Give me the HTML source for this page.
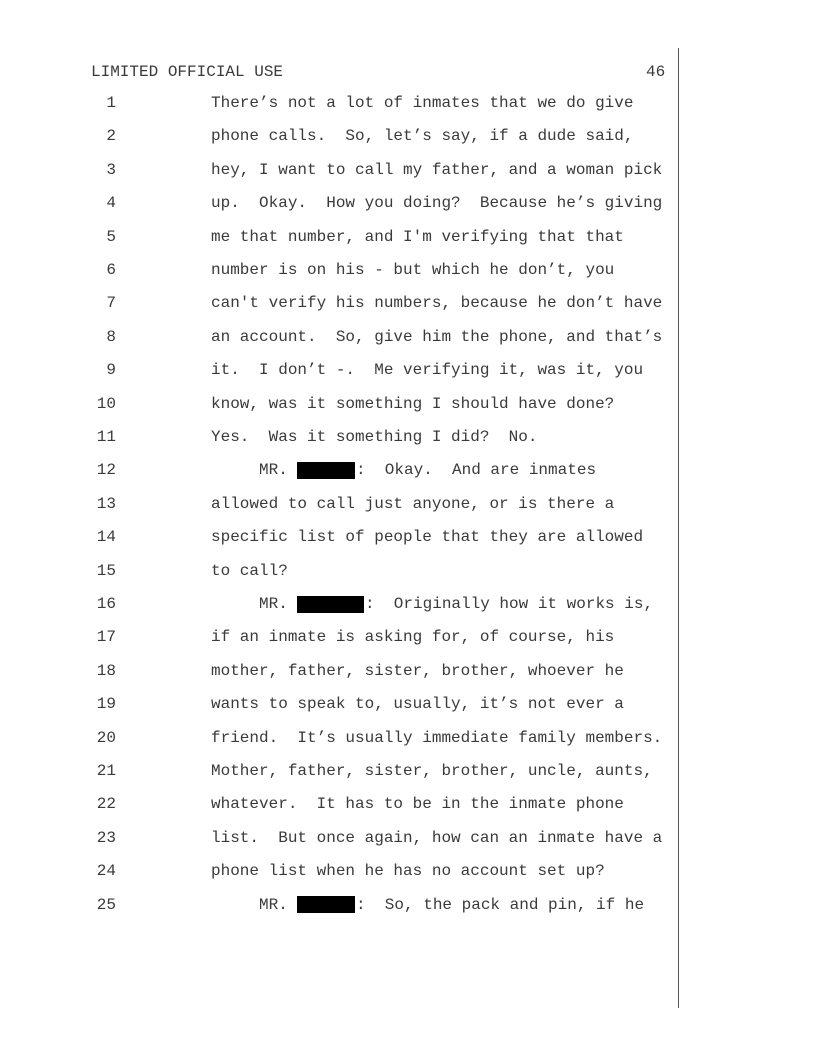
<!DOCTYPE html>
<html><head><meta charset="utf-8"><style>
body{margin:0;background:#fff;}
#p{position:relative;width:816px;height:1056px;overflow:hidden;font-family:"Liberation Mono","Courier New",monospace;font-size:16px;color:#3a3a3a;}
.t{position:absolute;white-space:pre;line-height:20px;}
.n{position:absolute;width:40px;text-align:right;left:76px;line-height:20px;}
.b{position:absolute;background:#000;height:17px;}
</style></head><body><div id="p">
<div class="t" style="left:91px;top:62px">LIMITED OFFICIAL USE</div>
<div class="t" style="left:646px;top:62px">46</div>
<div style="position:absolute;left:678px;top:48px;width:1px;height:960px;background:#555"></div>

<div class="n" style="top:93px">1</div><div class="t" style="left:211px;top:93px">There’s not a lot of inmates that we do give</div>
<div class="n" style="top:126.4px">2</div><div class="t" style="left:211px;top:126.4px">phone calls.  So, let’s say, if a dude said,</div>
<div class="n" style="top:159.8px">3</div><div class="t" style="left:211px;top:159.8px">hey, I want to call my father, and a woman pick</div>
<div class="n" style="top:193.2px">4</div><div class="t" style="left:211px;top:193.2px">up.  Okay.  How you doing?  Because he’s giving</div>
<div class="n" style="top:226.6px">5</div><div class="t" style="left:211px;top:226.6px">me that number, and I'm verifying that that</div>
<div class="n" style="top:260px">6</div><div class="t" style="left:211px;top:260px">number is on his - but which he don’t, you</div>
<div class="n" style="top:293.4px">7</div><div class="t" style="left:211px;top:293.4px">can't verify his numbers, because he don’t have</div>
<div class="n" style="top:326.8px">8</div><div class="t" style="left:211px;top:326.8px">an account.  So, give him the phone, and that’s</div>
<div class="n" style="top:360.2px">9</div><div class="t" style="left:211px;top:360.2px">it.  I don’t -.  Me verifying it, was it, you</div>
<div class="n" style="top:393.6px">10</div><div class="t" style="left:211px;top:393.6px">know, was it something I should have done?</div>
<div class="n" style="top:427px">11</div><div class="t" style="left:211px;top:427px">Yes.  Was it something I did?  No.</div>
<div class="n" style="top:460.4px">12</div><div class="t" style="left:259px;top:460.4px">MR.</div><div class="b" style="left:297px;width:58px;top:462px"></div><div class="t" style="left:356px;top:460.4px">:  Okay.  And are inmates</div>
<div class="n" style="top:493.8px">13</div><div class="t" style="left:211px;top:493.8px">allowed to call just anyone, or is there a</div>
<div class="n" style="top:527.2px">14</div><div class="t" style="left:211px;top:527.2px">specific list of people that they are allowed</div>
<div class="n" style="top:560.6px">15</div><div class="t" style="left:211px;top:560.6px">to call?</div>
<div class="n" style="top:594px">16</div><div class="t" style="left:259px;top:594px">MR.</div><div class="b" style="left:297px;width:67px;top:595.5px"></div><div class="t" style="left:365px;top:594px">:  Originally how it works is,</div>
<div class="n" style="top:627.4px">17</div><div class="t" style="left:211px;top:627.4px">if an inmate is asking for, of course, his</div>
<div class="n" style="top:660.8px">18</div><div class="t" style="left:211px;top:660.8px">mother, father, sister, brother, whoever he</div>
<div class="n" style="top:694.2px">19</div><div class="t" style="left:211px;top:694.2px">wants to speak to, usually, it’s not ever a</div>
<div class="n" style="top:727.6px">20</div><div class="t" style="left:211px;top:727.6px">friend.  It’s usually immediate family members.</div>
<div class="n" style="top:761px">21</div><div class="t" style="left:211px;top:761px">Mother, father, sister, brother, uncle, aunts,</div>
<div class="n" style="top:794.4px">22</div><div class="t" style="left:211px;top:794.4px">whatever.  It has to be in the inmate phone</div>
<div class="n" style="top:827.8px">23</div><div class="t" style="left:211px;top:827.8px">list.  But once again, how can an inmate have a</div>
<div class="n" style="top:861.2px">24</div><div class="t" style="left:211px;top:861.2px">phone list when he has no account set up?</div>
<div class="n" style="top:894.6px">25</div><div class="t" style="left:259px;top:894.6px">MR.</div><div class="b" style="left:297px;width:58px;top:896px"></div><div class="t" style="left:356px;top:894.6px">:  So, the pack and pin, if he</div>
</div>
</body></html>
